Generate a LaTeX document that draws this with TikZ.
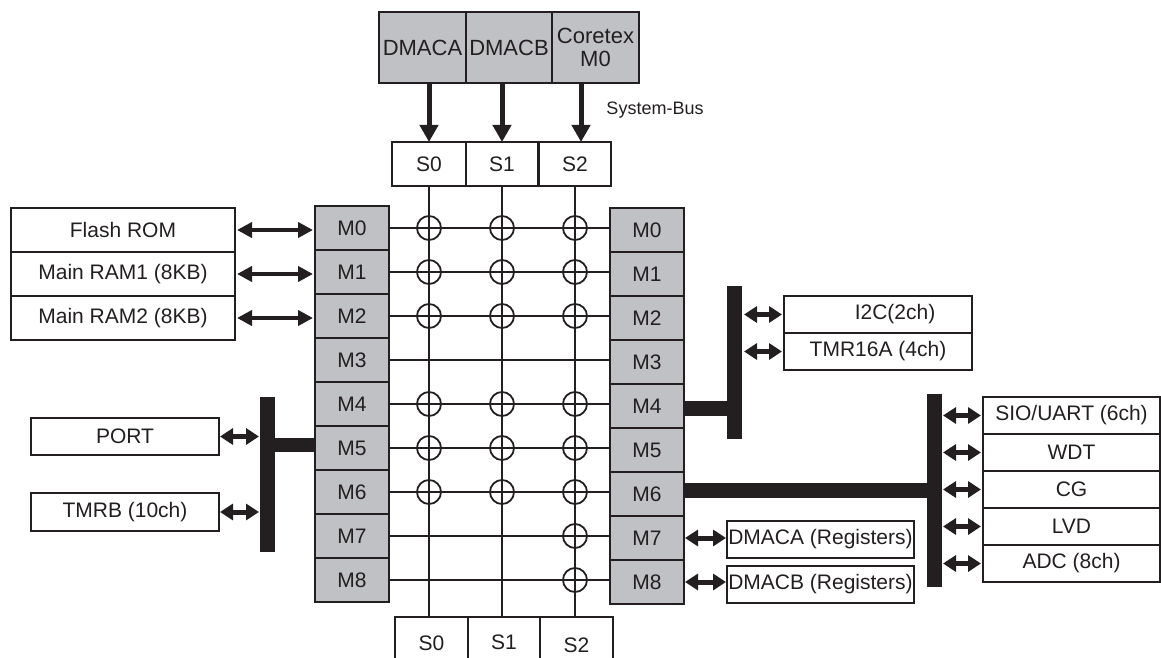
\documentclass[tikz,border=0pt]{standalone}
\usepackage{fontspec}
\setmainfont{Liberation Sans}
\usetikzlibrary{arrows.meta}
\definecolor{ink}{RGB}{35,31,32}
\definecolor{gfill}{RGB}{192,193,196}
\begin{document}
\begin{tikzpicture}[x=1pt,y=-1pt,
  every node/.style={inner sep=0pt, outer sep=0pt, text=ink, font=\fontsize{21}{23}\selectfont},
  gbox/.style={draw=ink, line width=2pt, fill=gfill},
  wbox/.style={draw=ink, line width=2pt, fill=white},
  mbox/.style={gbox, minimum width=74pt, minimum height=44pt},
  xline/.style={draw=ink, line width=1.8pt},
  dbl/.style={draw=ink, line width=4pt, {Triangle[length=15pt,width=15pt]}-{Triangle[length=15pt,width=15pt]}},
  sdbl/.style={draw=ink, line width=5pt, {Triangle[length=13pt,width=16pt]}-{Triangle[length=13pt,width=16pt]}},
  busbar/.style={fill=ink, minimum width=15pt},
  busline/.style={draw=ink, line width=15pt},
  sysarrow/.style={draw=ink, line width=5pt, -{Triangle[length=17pt,width=18pt]}}
  ]
\useasboundingbox (0,0) rectangle (1161,658);
\clip (0,0) rectangle (1161,658);

% masters
\node[gbox, minimum width=87pt, minimum height=71pt, font=\fontsize{22}{24}\selectfont] (DA) at (422.5,47.5) {DMACA};
\node[gbox, minimum width=86pt, minimum height=71pt, font=\fontsize{22}{24}\selectfont] (DB) at (509,47.5) {DMACB};
\node[gbox, minimum width=87pt, minimum height=71pt, align=center, font=\fontsize{22}{23}\selectfont] (CM) at (595.5,47.5) {Coretex\\M0};
\node[font=\fontsize{18}{20}\selectfont] (SBUS) at (655,110) {System-Bus};

% slave ports top
\node[wbox, minimum width=74pt, minimum height=44pt] (ST0) at (429,164) {S0};
\node[wbox, minimum width=72pt, minimum height=44pt] (ST1) at (502,164) {S1};
\node[wbox, minimum width=72pt, minimum height=44pt] (ST2) at (575,164) {S2};

% slave ports bottom
\node[wbox, minimum width=73pt, minimum height=63pt] (SB0) at (431.5,648.5) {\raisebox{10pt}{S0}};
\node[wbox, minimum width=72pt, minimum height=63pt] (SB1) at (504,648.5) {\raisebox{12pt}{S1}};
\node[wbox, minimum width=73pt, minimum height=63pt] (SB2) at (576.5,648.5) {\raisebox{6pt}{S2}};

\draw[sysarrow] (ST0.north |- DA.south) -- (ST0.north);
\draw[sysarrow] (ST1.north |- DB.south) -- (ST1.north);
\draw[sysarrow] ([xshift=6pt]ST2.north |- CM.south) -- ([xshift=6pt]ST2.north);

% M columns
\foreach \i in {0,...,8} {
  \node[mbox] (L\i) at (352,{228+44*\i}) {M\i};
  \node[mbox] (R\i) at (647,{230+44*\i}) {M\i};
}

% matrix lines
\foreach \i in {0,...,8} {
  \draw[xline] (L\i.east) -- (L\i.east -| R\i.west);
}
\foreach \c in {0,1,2} {
  \draw[xline] (ST\c.south) -- (ST\c.south |- SB\c.north);
}
\foreach \r in {0,1,2,4,5,6} {
  \foreach \c in {0,1,2} {
    \draw[xline] (ST\c.south |- L\r.east) circle (12pt);
  }
}
\draw[xline] (ST2.south |- L7.east) circle (12pt);
\draw[xline] (ST2.south |- L8.east) circle (12pt);

% left memories
\node[wbox, minimum width=224pt, minimum height=44pt] (FR) at (123,230) {Flash ROM};
\node[wbox, minimum width=224pt, minimum height=44pt] (RA1) at (123,274) {Main RAM1 (8KB)};
\node[wbox, minimum width=224pt, minimum height=44pt] (RA2) at (123,318) {Main RAM2 (8KB)};
\draw[dbl] ([xshift=2pt]FR.east) -- ([xshift=-2pt]FR.east -| L0.west);
\draw[dbl] ([xshift=2pt]RA1.east) -- ([xshift=-2pt]RA1.east -| L1.west);
\draw[dbl] ([xshift=2pt]RA2.east) -- ([xshift=-2pt]RA2.east -| L2.west);

% left peripheral bus
\node[busbar, minimum height=155pt] (LB) at (267.5,474.5) {};
\draw[draw=ink, line width=14pt] ([yshift=3pt]L5.west -| LB.center) -- ([yshift=3pt]L5.west);
\node[wbox, minimum width=188pt, minimum height=37pt] (PORT) at (125,436.5) {PORT};
\node[wbox, minimum width=188pt, minimum height=38pt] (TMRB) at (125,512) {TMRB (10ch)};
\draw[sdbl] ([xshift=1pt]PORT.east) -- ([xshift=-1pt]PORT.east -| LB.west);
\draw[sdbl] ([xshift=1pt]TMRB.east) -- ([xshift=-1pt]TMRB.east -| LB.west);

% right bus 1
\node[busbar, minimum height=153pt] (RB1) at (734.5,362.5) {};
\draw[busline] ([yshift=-2pt]R4.east) -- ([yshift=-2pt]R4.east -| RB1.center);
\node[wbox, minimum width=188pt, minimum height=37pt] (I2C) at (878,314.5) {\hspace{34pt}I2C(2ch)};
\node[wbox, minimum width=188pt, minimum height=37pt] (TMRA) at (878,351.5) {TMR16A (4ch)};
\draw[sdbl] ([xshift=2pt]RB1.east |- I2C.west) -- ([xshift=-2pt]I2C.west);
\draw[sdbl] ([xshift=2pt]RB1.east |- TMRA.west) -- ([xshift=-2pt]TMRA.west);

% right bus 2
\node[busbar, minimum height=193pt] (RB2) at (934.5,490.5) {};
\draw[busline] ([yshift=4pt]R6.east) -- ([yshift=4pt]R6.east -| RB2.center);
\node[wbox, minimum width=177pt, minimum height=37pt] (P0) at (1071.5,415.5) {SIO/UART (6ch)};
\node[wbox, minimum width=177pt, minimum height=37pt] (P1) at (1071.5,452.5) {WDT};
\node[wbox, minimum width=177pt, minimum height=37pt] (P2) at (1071.5,489.5) {CG};
\node[wbox, minimum width=177pt, minimum height=37pt] (P3) at (1071.5,526.5) {LVD};
\node[wbox, minimum width=177pt, minimum height=37pt] (P4) at (1071.5,563.5) {ADC (8ch)};
\foreach \p in {0,...,4} {
  \draw[sdbl] ([xshift=1pt]RB2.east |- P\p.west) -- ([xshift=-2pt]P\p.west);
}

% DMA registers
\node[wbox, minimum width=187pt, minimum height=37pt] (DRA) at (820.5,539.5) {DMACA (Registers)};
\node[wbox, minimum width=187pt, minimum height=37pt] (DRB) at (820.5,584.5) {DMACB (Registers)};
\draw[sdbl] ([xshift=1pt]R7.east) -- ([xshift=-1pt]R7.east -| DRA.west);
\draw[sdbl] ([xshift=1pt]R8.east) -- ([xshift=-1pt]R8.east -| DRB.west);
\end{tikzpicture}
\end{document}
